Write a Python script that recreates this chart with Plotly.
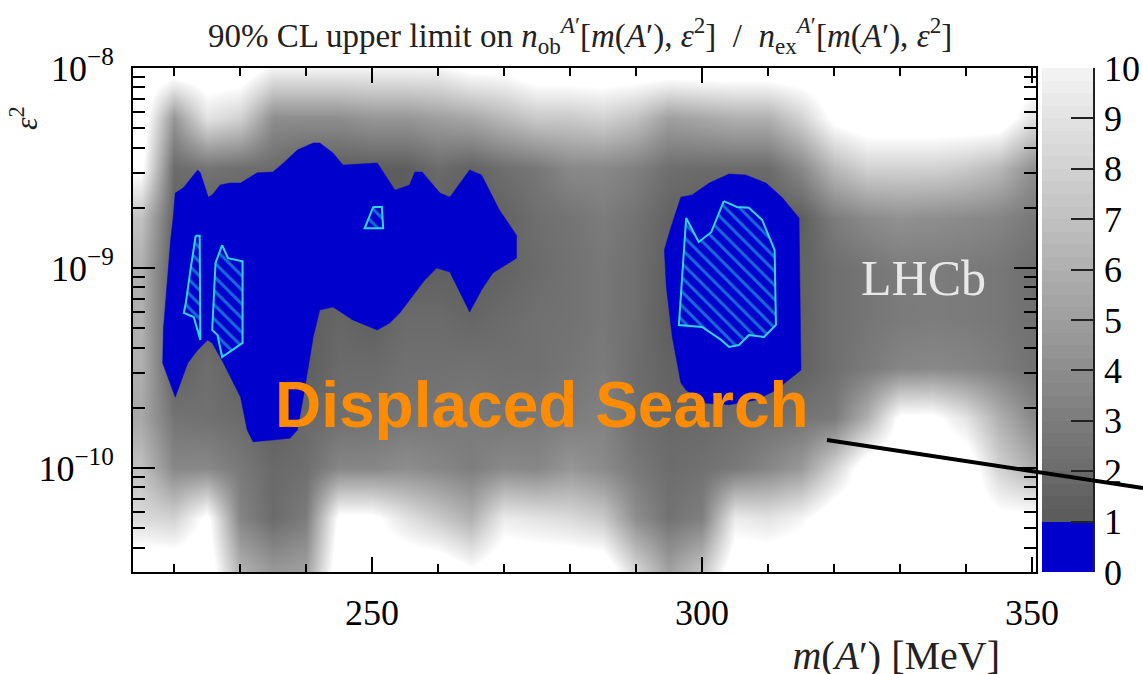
import numpy as np
import plotly.graph_objects as go

# ---------------- data ----------------
MASS_MEV = [215, 220, 225, 230, 235, 240, 245, 250, 255, 260, 265, 270, 275, 280,
            285, 290, 295, 300, 305, 310, 315, 320, 325, 330, 335, 340, 345, 350]
EPS2_ROWS = [3.16e-11, 5.62e-11, 1.00e-10, 1.78e-10, 3.16e-10, 5.62e-10,
             1.00e-9, 1.78e-9, 3.16e-9, 5.62e-9, 1.00e-8]
# upper-limit ratio, rows bottom (3e-11) -> top (1e-8); values >= 10 are white
RATIO_ROWS = [
    [12, 12, 12, 6, 4.5, 5, 12, 12, 12, 12, 10.5, 12, 12, 12, 12, 8, 5, 7, 12, 12, 12, 12, 12, 12, 12, 12, 12, 12],
    [8.5, 8, 11, 3.5, 2.0, 3.0, 11, 11, 9, 7.5, 6, 9.5, 9, 8.5, 7.5, 4, 2.4, 3.2, 9.5, 9, 10, 12, 12, 12, 12, 12, 11, 11],
    [7, 3.6, 3.7, 2.8, 1.9, 2.2, 3.6, 3.6, 4.0, 3.6, 3.1, 3.8, 3.6, 4.5, 3.8, 2.8, 2.1, 2.3, 2.8, 3.6, 4.7, 8, 12, 12, 12, 12, 8, 6],
    [5.5, 2.5, 2.3, 2.0, 1.2, 1.9, 2.2, 2.4, 2.6, 2.7, 2.9, 2.6, 2.8, 3.0, 3.3, 2.2, 1.8, 1.9, 2.1, 2.3, 2.5, 2.9, 6, 11, 11, 9, 6, 3.8],
    [6, 1.3, 2.2, 1.3, 1.2, 1.2, 2.0, 2.0, 2.3, 2.3, 2.4, 2.3, 2.3, 2.6, 2.9, 2.1, 1.5, 1.2, 1.2, 1.2, 1.5, 2.2, 2.9, 3.5, 3.7, 3.5, 3.1, 2.4],
    [6, 1.2, 1.2, 1.2, 1.2, 1.2, 1.7, 1.3, 2.0, 2.0, 1.7, 2.0, 2.3, 2.4, 2.7, 2.2, 1.2, 1.2, 1.2, 1.2, 1.4, 2.2, 2.6, 2.9, 3.0, 2.9, 2.7, 2.3],
    [6, 1.2, 1.2, 1.2, 1.2, 1.2, 1.2, 1.2, 1.2, 1.3, 1.2, 1.5, 2.0, 2.4, 2.7, 2.2, 1.3, 1.2, 1.2, 1.2, 1.5, 2.2, 2.6, 3.0, 3.0, 2.9, 2.7, 2.2],
    [7, 1.5, 1.2, 1.2, 1.2, 1.2, 1.2, 1.2, 1.2, 1.2, 1.2, 1.5, 2.2, 2.5, 3.0, 2.4, 1.5, 1.2, 1.2, 1.2, 1.2, 3.0, 3.8, 4.2, 4.0, 3.8, 3.5, 2.8],
    [11, 2, 2.5, 2.2, 2, 1.2, 1.2, 1.2, 1.2, 2, 1.5, 2.2, 2.7, 3.7, 3.7, 3.2, 2.2, 2, 2, 2, 3.7, 6.5, 8, 8, 8, 7.5, 6.5, 4.2],
    [12, 4.5, 9, 8, 4, 4, 4, 4.5, 4.5, 5, 5.5, 6.5, 7.5, 7.5, 8, 7, 5, 5.5, 6, 6, 8, 11, 12, 12, 12, 12, 12, 9],
    [12, 12, 12, 12, 10, 10, 10, 10, 10, 10, 11, 11, 12, 12, 12, 12, 12, 12, 12, 12, 12, 12, 12, 12, 12, 12, 12, 12],
]

# ratio < 1 contours (blue)
BLUE_A_MASS = [219.9, 220.2, 221.4, 223.6, 224.0, 225.2, 225.8, 227.0, 228.5, 230.1, 232.6, 235.0,
               236.6, 238.7, 241.1, 242.1, 244.1, 245.6, 250.8, 253.5, 255.7, 256.5, 257.6, 260.3,
               261.8, 264.8, 266.6, 269.3, 271.9, 271.9, 268.3, 266.6, 264.8, 263.7, 261.8, 259.8,
               258.0, 255.7, 254.2, 252.7, 250.8, 247.1, 244.1, 242.1, 241.1, 239.6, 238.7, 237.6,
               232.0, 231.1, 230.1, 227.5, 225.8, 225.1, 223.6, 222.1, 220.2, 218.3, 218.4, 219.5]
BLUE_A_EPS2 = [1.80e-9, 2.37e-9, 2.51e-9, 3.09e-9, 2.99e-9, 2.26e-9, 2.32e-9, 2.60e-9, 2.66e-9, 2.66e-9,
               2.99e-9, 3.02e-9, 3.35e-9, 3.89e-9, 4.22e-9, 4.22e-9, 3.76e-9, 3.27e-9, 3.35e-9, 2.45e-9,
               2.60e-9, 3.02e-9, 3.02e-9, 2.37e-9, 2.26e-9, 3.09e-9, 2.92e-9, 1.95e-9, 1.46e-9, 1.12e-9,
               9.44e-10, 7.76e-10, 6.03e-10, 7.16e-10, 9.55e-10, 1.00e-9, 8.71e-10, 6.92e-10, 5.96e-10,
               5.31e-10, 4.90e-10, 5.50e-10, 6.38e-10, 6.17e-10, 4.52e-10, 2.26e-10, 1.55e-10, 1.41e-10,
               1.35e-10, 1.55e-10, 2.26e-10, 3.35e-10, 4.22e-10, 4.37e-10, 3.89e-10, 3.35e-10, 2.26e-10,
               3.35e-10, 4.90e-10, 1.38e-9]
BLUE_B_MASS = [296.8, 298.5, 301.1, 304.1, 306.6, 309.7, 312.1, 314.7, 315.0, 313.1, 311.2, 308.2,
               304.1, 300.6, 297.6, 296.8, 295.5, 294.6, 294.3, 295.3]
BLUE_B_EPS2 = [2.26e-9, 2.32e-9, 2.66e-9, 2.95e-9, 2.92e-9, 2.66e-9, 2.26e-9, 1.78e-9, 3.09e-10,
               2.75e-10, 2.45e-10, 2.19e-10, 2.07e-10, 2.11e-10, 2.45e-10, 2.66e-10, 4.52e-10,
               8.04e-10, 1.23e-9, 1.60e-9]

# hatched (cyan) contours
HATCH_1_MASS = [223.3, 223.9, 224.0, 223.0, 221.5, 221.8, 222.5]
HATCH_1_EPS2 = [1.45e-9, 1.45e-9, 4.37e-10, 5.69e-10, 5.96e-10, 6.68e-10, 9.77e-10]
HATCH_2_MASS = [227.3, 228.2, 230.4, 230.4, 227.3, 226.6, 225.8, 226.3]
HATCH_2_EPS2 = [1.30e-9, 1.12e-9, 1.08e-9, 4.22e-10, 3.59e-10, 4.62e-10, 4.90e-10, 1.06e-9]
HATCH_3_MASS = [250.2, 251.5, 251.7, 248.9]
HATCH_3_EPS2 = [2.02e-9, 2.02e-9, 1.58e-9, 1.58e-9]
HATCH_4_MASS = [303.3, 305.3, 307.1, 309.1, 311.0, 311.2, 309.4, 307.1, 305.6, 304.1, 302.9,
                300.0, 296.5, 297.6, 299.5, 301.4]
HATCH_4_EPS2 = [2.16e-9, 2.02e-9, 2.00e-9, 1.74e-9, 1.23e-9, 5.19e-10, 4.52e-10, 4.62e-10,
                4.12e-10, 4.03e-10, 4.37e-10, 5.07e-10, 5.19e-10, 1.78e-9, 1.35e-9, 1.51e-9]

Y_TICKS = [1e-10, 1e-9, 1e-8]
Y_TICK_TEXT = ["10<sup>−10</sup>", "10<sup>−9</sup>", "10<sup>−8</sup>"]
CB_TICKS = list(range(0, 11))

# ---------------- styling ----------------
BLUE = "#0000cc"
CYAN = "#30d4e6"
SERIF = "Liberation Serif, Times New Roman, serif"
ZMAX = 10.5
CS = [[0, BLUE], [1 / ZMAX, BLUE], [1 / ZMAX, "#5a5a5a"], [10 / ZMAX, "#f4f4f4"], [1, "#ffffff"]]

fig = go.Figure()
fig.add_trace(go.Heatmap(x=MASS_MEV, y=EPS2_ROWS, z=RATIO_ROWS, colorscale=CS, zmin=0, zmax=ZMAX,
                         zsmooth="best", showscale=False, hoverinfo="skip"))

for mx, my in [(BLUE_A_MASS, BLUE_A_EPS2), (BLUE_B_MASS, BLUE_B_EPS2)]:
    fig.add_trace(go.Scatter(x=mx + mx[:1], y=my + my[:1], mode="lines", fill="toself",
                             fillcolor=BLUE, line=dict(color=BLUE, width=0.5),
                             hoverinfo="skip", showlegend=False))

for mx, my in [(HATCH_1_MASS, HATCH_1_EPS2), (HATCH_2_MASS, HATCH_2_EPS2),
               (HATCH_3_MASS, HATCH_3_EPS2), (HATCH_4_MASS, HATCH_4_EPS2)]:
    fig.add_trace(go.Scatter(x=mx + mx[:1], y=my + my[:1], mode="lines", fill="toself",
                             fillcolor=BLUE,
                             fillpattern=dict(shape="\\", fgcolor=CYAN, bgcolor=BLUE, size=10, solidity=0.3),
                             line=dict(color=CYAN, width=2),
                             hoverinfo="skip", showlegend=False))

# palette bar
cb_levels = np.arange(0.125, 10, 0.25)
fig.add_trace(go.Heatmap(x=[0], y=cb_levels, z=[[v] for v in cb_levels], colorscale=CS,
                         zmin=0, zmax=ZMAX, showscale=False, hoverinfo="skip",
                         xaxis="x2", yaxis="y2"))

minor_y = [k * 10.0 ** e for e in (-11, -10, -9) for k in range(2, 10)]

fig.update_layout(
    width=1143, height=674,
    margin=dict(l=0, r=0, t=0, b=0),
    paper_bgcolor="white", plot_bgcolor="white",
    showlegend=False,
    xaxis=dict(domain=[133 / 1143, 1036 / 1143], range=[213.8, 350.6], anchor="y", automargin=False,
               showline=True, linecolor="black", linewidth=2, mirror="ticks",
               ticks="inside", ticklen=15, tickwidth=2, tickcolor="black",
               tick0=0, dtick=50, ticklabelstandoff=8,
               tickfont=dict(family=SERIF, size=36, color="black"),
               minor=dict(ticks="inside", ticklen=8, tickwidth=1.5, tickcolor="black", tick0=0, dtick=10),
               showgrid=False, zeroline=False),
    yaxis=dict(domain=[1 - 572 / 674, 1 - 68 / 674], type="log", range=[-10.52, -8.0], anchor="x",
               automargin=False,
               showline=True, linecolor="black", linewidth=2, mirror="ticks",
               ticks="inside", ticklen=22, tickwidth=2, tickcolor="black",
               tickmode="array", tickvals=Y_TICKS, ticktext=Y_TICK_TEXT, ticklabelstandoff=10,
               tickfont=dict(family=SERIF, size=36, color="black"),
               minor=dict(ticks="inside", ticklen=12, tickwidth=1.5, tickcolor="black",
                          tickmode="array", tickvals=minor_y),
               showgrid=False, zeroline=False),
    xaxis2=dict(domain=[1042 / 1143, 1093 / 1143], range=[-0.5, 0.5], anchor="y2", automargin=False,
                visible=False, showgrid=False, zeroline=False),
    yaxis2=dict(domain=[1 - 572 / 674, 1 - 68 / 674], range=[0, 10], anchor="x2", side="right",
                automargin=False,
                showline=True, linecolor="#222222", linewidth=1.5,
                ticks="inside", ticklen=22, tickwidth=1.5, tickcolor="#222222",
                tickmode="array", tickvals=CB_TICKS, ticklabelstandoff=2,
                tickfont=dict(family=SERIF, size=36, color="black"),
                showgrid=False, zeroline=False),
)

fig.add_annotation(xref="paper", yref="paper", x=580 / 1143, y=1 - 36 / 674, showarrow=False,
                   xanchor="center", yanchor="middle",
                   text="90% CL upper limit on <i>n</i><sub>ob</sub><sup><i>A</i>′</sup>[<i>m</i>(<i>A</i>′), <i>ε</i><sup>2</sup>]  /  "
                        "<i>n</i><sub>ex</sub><sup><i>A</i>′</sup>[<i>m</i>(<i>A</i>′), <i>ε</i><sup>2</sup>]",
                   font=dict(family=SERIF, size=33, color="#222222"))
fig.add_annotation(xref="paper", yref="paper", x=1002 / 1143, y=1 - 655 / 674, showarrow=False,
                   xanchor="right", yanchor="middle", width=280, align="right",
                   text="<i>m</i>(<i>A</i>′) [MeV]", font=dict(family=SERIF, size=40, color="#222222"))
fig.add_annotation(xref="paper", yref="paper", x=24 / 1143, y=1 - 118 / 674, showarrow=False,
                   xanchor="center", yanchor="middle", textangle=-90,
                   text="<i>ε</i><sup>2</sup>", font=dict(family=SERIF, size=32, color="#222222"))
fig.add_annotation(xref="paper", yref="paper", x=923 / 1143, y=1 - 278 / 674, showarrow=False,
                   xanchor="center", yanchor="middle",
                   text="LHCb", font=dict(family=SERIF, size=50, color="#e8e8e8"))
fig.add_annotation(xref="paper", yref="paper", x=542 / 1143, y=1 - 405 / 674, showarrow=False,
                   xanchor="center", yanchor="middle",
                   text="<b>Displaced Search</b>",
                   font=dict(family="Liberation Sans, Arial, sans-serif", size=64, color="#ff8c00"))
fig.add_shape(type="line", xref="paper", yref="paper", x0=827 / 1143, y0=1 - 440 / 674,
              x1=1.0, y1=1 - 488 / 674, line=dict(color="black", width=4), layer="above")

fig.write_html("out.html")
